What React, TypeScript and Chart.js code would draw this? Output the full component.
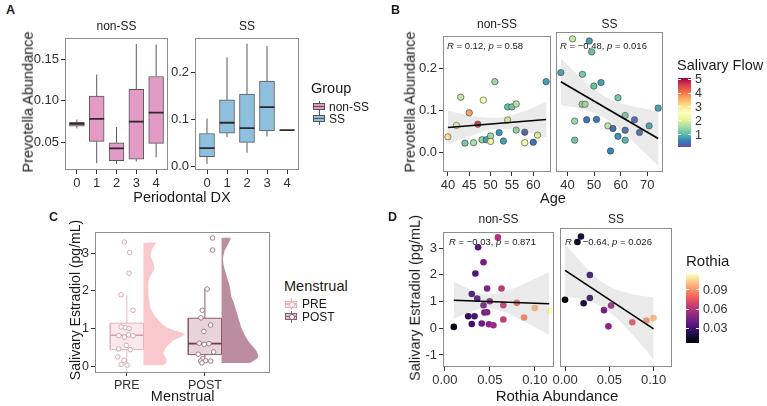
import React, { useEffect, useRef } from "react";
import { Chart, registerables } from "chart.js";

Chart.register(...registerables);

const FONT = "'Liberation Sans', Arial, sans-serif";
const INK = "#1a1a1a";
const TICK_TEXT = "#303030";

// ---------------- Panel A : Prevotella by Periodontal DX ----------------
const periodontalDX = [0, 1, 2, 3, 4];
const dxTickLabels = ["0", "1", "2", "3", "4"];
const aNonSSLow = [0.0667, 0.025, 0.0239, 0.027, 0.032];
const aNonSSQ1 = [0.0694, 0.051, 0.0279, 0.0298, 0.0486];
const aNonSSMedian = [0.072, 0.078, 0.0427, 0.0749, 0.0855];
const aNonSSQ3 = [0.0741, 0.1055, 0.0494, 0.1137, 0.129];
const aNonSSHigh = [0.0773, 0.1314, 0.0682, 0.168, 0.1675];
const aSSLow = [0.006, 0.0627, 0.0296, 0.064, 0.0772];
const aSSQ1 = [0.0213, 0.071, 0.0516, 0.0758, 0.0772];
const aSSMedian = [0.0392, 0.093, 0.0814, 0.126, 0.0772];
const aSSQ3 = [0.0702, 0.1414, 0.1538, 0.181, 0.0772];
const aSSHigh = [0.102, 0.231, 0.26, 0.255, 0.0772];
const aNonSSYTicks = [0.05, 0.1, 0.15];
const aNonSSYLabels = ["0.05", "0.10", "0.15"];
const aSSYTicks = [0, 0.1, 0.2];
const aSSYLabels = ["0.0", "0.1", "0.2"];

// ---------------- Panel B : Prevotella vs Age ----------------
const bNonSSAge = [40, 42, 43, 44, 45, 46, 47, 48, 48.3, 49, 50, 50, 51, 52, 53, 54, 55, 54, 56, 56, 58, 58, 60, 61, 63];
const bNonSSAbund = [0.038, 0.065, 0.132, 0.023, 0.095, 0.024, 0.068, 0.031, 0.125, 0.031, 0.04, 0.027, 0.169, 0.048, 0.028, 0.109, 0.109, 0.078, 0.116, 0.054, 0.049, 0.024, 0.025, 0.042, 0.169];
const bNonSSFlow = [3.0, 2.4, 1.8, 1.2, 3.7, 1.6, 4.7, 1.4, 2.5, 0.8, 1.5, 2.2, 1.5, 0.7, 0.8, 1.1, 1.2, 2.1, 1.7, 1.4, 0.3, 2.4, 0.4, 2.0, 0.8];
const bSSAge = [37.5, 41.9, 42.7, 42.7, 45.6, 45.5, 46.6, 47.2, 48.2, 49.1, 49.9, 50.9, 52.6, 55.2, 57.1, 56.2, 59, 59, 61.7, 61.7, 61.7, 65.2, 67.1, 70.7, 74.1];
const bSSAbund = [0.184, 0.262, 0.072, 0.028, 0.18, 0.111, 0.111, 0.075, 0.257, 0.232, 0.153, 0.076, 0.161, 0.061, 0.055, 0.003, 0.126, 0.037, 0.085, 0.051, 0.028, 0.075, 0.046, 0.061, 0.102];
const bSSFlow = [0.8, 1.8, 1.5, 1.2, 1.2, 1.6, 1.6, 0.4, 0.8, 1.1, 1.1, 0.5, 0.8, 1.8, 0.4, 0.6, 1.2, 0.7, 1.3, 0.3, 1.0, 0.3, 0.3, 0.8, 0.8];
const bNonSSFitX = [40, 63];
const bNonSSFitY = [0.06, 0.079];
const bNonSSBandX = [40, 43, 46, 51.5, 56, 59, 63];
const bNonSSBandHi = [0.1, 0.093, 0.087, 0.083, 0.093, 0.103, 0.121];
const bNonSSBandLo = [0.02, 0.032, 0.043, 0.057, 0.054, 0.048, 0.037];
const bSSFitX = [37.5, 74.1];
const bSSFitY = [0.163, 0.032];
const bSSBandX = [37.5, 44, 50, 54, 60, 67, 74.1];
const bSSBandHi = [0.217, 0.178, 0.146, 0.129, 0.113, 0.103, 0.095];
const bSSBandLo = [0.109, 0.102, 0.091, 0.079, 0.052, 0.011, -0.031];
const bYTicks = [0, 0.1, 0.2];
const bYLabels = ["0.0", "0.1", "0.2"];
const bNonSSXTicks = [40, 45, 50, 55, 60];
const bNonSSXLabels = ["40", "45", "50", "55", "60"];
const bSSXTicks = [40, 50, 60, 70];
const bSSXLabels = ["40", "50", "60", "70"];
const flowLegendTicks = [1, 2, 3, 4, 5];

// ---------------- Panel C : Estradiol by Menstrual ----------------
const menstrualCats = [1, 2];
const menstrualLabels = ["PRE", "POST"];
const cLow = [0.04, 0.1];
const cQ1 = [0.45, 0.32];
const cMedian = [0.83, 0.61];
const cQ3 = [1.15, 1.28];
const cHigh = [1.88, 2.06];
const cPreValues = [3.29, 3.02, 2.47, 1.9, 1.49, 1.05, 1.03, 1.01, 0.82, 0.84, 0.82, 0.78, 0.56, 0.47, 0.45, 0.26, 0.17, 0.06, 0.04];
const cPreJitter = [-0.032, 0.036, 0.028, -0.074, 0.079, -0.074, -0.019, 0.028, -0.104, 0.023, 0.079, -0.032, -0.006, -0.104, 0.045, -0.117, -0.036, -0.074, 0.003];
const cPostValues = [3.4, 3.08, 2.05, 1.49, 1.29, 1.1, 0.93, 0.62, 0.59, 0.61, 0.39, 0.33, 0.21, 0.15, 0.16, 0.15, 0.1];
const cPostJitter = [0.098, 0.098, 0.029, -0.034, -0.051, 0.073, -0.013, -0.073, -0.009, 0.051, 0.111, -0.085, -0.029, -0.055, 0.009, 0.073, -0.038];
const cPreDensityY = [3.27, 3.12, 2.93, 2.75, 2.58, 2.4, 2.24, 2.05, 1.9, 1.72, 1.55, 1.4, 1.29, 1.15, 1.03, 0.94, 0.86, 0.78, 0.69, 0.6, 0.52, 0.43, 0.35, 0.22, 0.12, 0.04];
const cPreDensityW = [0.166, 0.115, 0.089, 0.127, 0.14, 0.089, 0.064, 0.064, 0.064, 0.076, 0.089, 0.127, 0.166, 0.229, 0.306, 0.42, 0.535, 0.471, 0.382, 0.331, 0.293, 0.268, 0.255, 0.293, 0.293, 0.255];
const cPostDensityY = [3.4, 3.25, 3.05, 2.85, 2.7, 2.5, 2.32, 2.15, 2.0, 1.85, 1.72, 1.55, 1.37, 1.2, 1.03, 0.86, 0.68, 0.55, 0.42, 0.3, 0.22, 0.15, 0.1];
const cPostDensityW = [0.115, 0.089, 0.038, 0.019, 0.025, 0.051, 0.076, 0.102, 0.115, 0.127, 0.153, 0.178, 0.204, 0.229, 0.255, 0.293, 0.344, 0.395, 0.446, 0.471, 0.459, 0.408, 0.357];
const cYTicks = [0, 1, 2, 3];
const cYLabels = ["0", "1", "2", "3"];

// ---------------- Panel D : Estradiol vs Rothia ----------------
const dNonSSRothia = [0.059, 0.037, 0.043, 0.034, 0.047, 0.063, 0.03, 0.036, 0.05, 0.043, 0.065, 0.08, 0.1, 0.116, 0.088, 0.026, 0.033, 0.044, 0.047, 0.065, 0.03, 0.041, 0.049, 0.054, 0.01];
const dNonSSEstradiol = [3.4, 3.03, 2.47, 2.05, 1.49, 1.49, 1.28, 1.11, 1.01, 0.86, 0.86, 0.95, 0.76, 0.64, 0.4, 0.45, 0.45, 0.59, 0.6, 0.33, 0.16, 0.18, 0.15, 0.11, 0.05];
const dSSRothia = [0.018, 0.014, 0.0, 0.028, 0.028, 0.021, 0.044, 0.052, 0.049, 0.076, 0.092, 0.1];
const dSSEstradiol = [3.3, 3.1, 1.0, 1.9, 1.06, 0.87, 0.62, 0.79, 0.03, 0.18, 0.24, 0.33];
const dNonSSFitX = [0.01, 0.116];
const dNonSSFitY = [1.05, 0.92];
const dNonSSBandX = [0.01, 0.025, 0.04, 0.05, 0.065, 0.085, 0.1, 0.116];
const dNonSSBandHi = [1.74, 1.5, 1.3, 1.27, 1.36, 1.62, 1.85, 2.1];
const dNonSSBandLo = [0.36, 0.56, 0.72, 0.74, 0.62, 0.31, 0.05, -0.26];
const dSSFitX = [0.0, 0.1];
const dSSFitY = [2.07, -0.06];
const dSSBandX = [0.0, 0.015, 0.03, 0.045, 0.06, 0.075, 0.09, 0.1];
const dSSBandHi = [3.03, 2.47, 1.97, 1.57, 1.34, 1.21, 1.13, 1.09];
const dSSBandLo = [1.12, 1.04, 0.91, 0.67, 0.28, -0.23, -0.78, -1.2];
const dYTicks = [-1, 0, 1, 2, 3];
const dYLabels = ["-1", "0", "1", "2", "3"];
const dXTicks = [0, 0.05, 0.1];
const dXLabels = ["0.00", "0.05", "0.10"];
const rothiaLegendTicks = [0.03, 0.06, 0.09];
const rothiaLegendLabels = ["0.03", "0.06", "0.09"];

// ---------------- colour scales ----------------
const SPECTRAL = ["#5E4FA2", "#3288BD", "#66C2A5", "#ABDDA4", "#E6F598", "#FFFFBF", "#FEE08B", "#FDAE61", "#F46D43", "#D53E4F", "#9E0142"];
const MAGMA = ["#000004", "#140E36", "#3B0F70", "#641A80", "#8C2981", "#B73779", "#DE4968", "#F7705C", "#FE9F6D", "#FECF92", "#FCFDBF"];
const FLOW_DOMAIN = [0.1, 5.1];
const ROTHIA_DOMAIN = [0.007, 0.115];

function hexRgb(h: string) {
  return [parseInt(h.slice(1, 3), 16), parseInt(h.slice(3, 5), 16), parseInt(h.slice(5, 7), 16)];
}
function ramp(stops: string[], dom: number[], v: number) {
  let t = (v - dom[0]) / (dom[1] - dom[0]);
  t = Math.max(0, Math.min(1, t));
  const n = stops.length - 1;
  const i = Math.min(n - 1, Math.floor(t * n));
  const f = t * n - i;
  const a = hexRgb(stops[i]);
  const b = hexRgb(stops[i + 1]);
  const c = a.map((x, k) => Math.round(x + (b[k] - x) * f));
  return `rgb(${c[0]},${c[1]},${c[2]})`;
}

// ---------------- layout ----------------
const YW = 40;
const LP = 16;
const PT = 6;
const PR = 8;
const XH = 24;
type Box = { l: number; t: number; r: number; b: number };
const boxANon: Box = { l: 65, t: 34, r: 168, b: 170 };
const boxASS: Box = { l: 195, t: 34, r: 299, b: 170 };
const boxBNon: Box = { l: 443, t: 32, r: 551, b: 172 };
const boxBSS: Box = { l: 556, t: 32, r: 663, b: 172 };
const boxC: Box = { l: 95, t: 228, r: 270, b: 372 };
const boxDNon: Box = { l: 443, t: 228, r: 554, b: 367 };
const boxDSS: Box = { l: 560, t: 228, r: 672, b: 367 };

const BAND = "rgba(150,150,150,0.2)";

const panelBorder = {
  id: "panelBorder",
  afterDatasetsDraw(chart: any) {
    const { ctx, chartArea: a } = chart;
    ctx.save();
    ctx.strokeStyle = "#8c8c8c";
    ctx.lineWidth = 1;
    ctx.strokeRect(Math.round(a.left) + 0.5, Math.round(a.top) + 0.5, Math.round(a.right - a.left) - 1, Math.round(a.bottom - a.top) - 1);
    ctx.restore();
  },
};

function axis(min: number, max: number, ticks: number[], labels: string[], isX: boolean, display = true, size = 13) {
  return {
    type: "linear",
    min,
    max,
    display,
    offset: false,
    afterFit: (s: any) => {
      if (!display) return;
      if (isX) s.height = XH;
      else s.width = YW;
    },
    afterBuildTicks: (s: any) => {
      s.ticks = ticks.map((v) => ({ value: v }));
    },
    ticks: {
      autoSkip: false,
      maxRotation: 0,
      minRotation: 0,
      padding: 2,
      color: TICK_TEXT,
      font: { family: FONT, size },
      callback: (v: number) => {
        const i = ticks.indexOf(v);
        return i >= 0 ? labels[i] : "";
      },
    },
    grid: { display: true, drawOnChartArea: false, drawTicks: true, tickLength: 4, color: "#333", lineWidth: 1, offset: false },
    border: { display: false },
  };
}

function opts(showY: boolean, x: any, y: any) {
  return {
    responsive: false,
    maintainAspectRatio: false,
    animation: false,
    devicePixelRatio: 1,
    events: [],
    layout: { padding: { left: showY ? 0 : LP, top: PT, right: PR, bottom: 0 } },
    plugins: { legend: { display: false }, tooltip: { enabled: false } },
    scales: { x, y },
  };
}

function Facet({ box, showY, make }: { box: Box; showY: boolean; make: () => any }) {
  const ref = useRef<HTMLCanvasElement>(null);
  const lw = showY ? YW : LP;
  const w = box.r - box.l + lw + PR;
  const h = box.b - box.t + PT + XH;
  useEffect(() => {
    const c = new Chart(ref.current as HTMLCanvasElement, make());
    return () => c.destroy();
  }, []);
  return <canvas ref={ref} width={w} height={h} style={{ position: "absolute", left: box.l - lw, top: box.t - PT, width: w, height: h }} />;
}

// ---------------- chart builders ----------------
const A_XMIN = -0.6;
const A_XMAX = 4.6;
function boxplotChart(box: Box, lows: number[], q1: number[], med: number[], q3: number[], high: number[], fill: string, ymin: number, ymax: number, yt: number[], yl: string[]) {
  const ppu = (box.r - box.l) / (A_XMAX - A_XMIN);
  const whiskers: any[] = [];
  const medians: any[] = [];
  periodontalDX.forEach((c, i) => {
    whiskers.push({ x: c, y: lows[i] }, { x: c, y: q1[i] }, { x: c, y: null }, { x: c, y: q3[i] }, { x: c, y: high[i] }, { x: c, y: null });
    medians.push({ x: c - 0.375, y: med[i] }, { x: c + 0.375, y: med[i] }, { x: c, y: null });
  });
  return {
    type: "bar",
    data: {
      datasets: [
        { type: "line", data: whiskers, borderColor: "#595959", borderWidth: 1, pointRadius: 0, spanGaps: false, fill: false, order: 3 },
        { type: "bar", data: periodontalDX.map((c, i) => ({ x: c, y: [q1[i], q3[i]] })), backgroundColor: fill, borderColor: "#595959", borderWidth: 1, borderSkipped: false, barThickness: ppu * 0.75, order: 2 },
        { type: "line", data: medians, borderColor: "#2b2b2b", borderWidth: 1.8, pointRadius: 0, spanGaps: false, fill: false, order: 1 },
      ],
    },
    options: opts(true, axis(A_XMIN, A_XMAX, periodontalDX, dxTickLabels, true), axis(ymin, ymax, yt, yl, false)),
    plugins: [panelBorder],
  };
}

function regressionChart(p: any) {
  const pts = p.xs.map((x: number, i: number) => ({ x, y: p.ys[i] }));
  return {
    type: "scatter",
    data: {
      datasets: [
        { type: "line", data: p.bandX.map((x: number, i: number) => ({ x, y: p.bandHi[i] })), fill: "+1", backgroundColor: BAND, borderWidth: 0, pointRadius: 0, cubicInterpolationMode: "monotone", order: 2 },
        { type: "line", data: p.bandX.map((x: number, i: number) => ({ x, y: p.bandLo[i] })), fill: false, borderWidth: 0, pointRadius: 0, cubicInterpolationMode: "monotone", order: 2 },
        { type: "line", data: p.fitX.map((x: number, i: number) => ({ x, y: p.fitY[i] })), borderColor: "#000", borderWidth: 1.6, pointRadius: 0, fill: false, order: 1 },
        { type: "scatter", data: pts, backgroundColor: p.colors, borderColor: p.pointBorder, borderWidth: p.pointBorderWidth, pointRadius: p.radius, order: 3 },
      ],
    },
    options: opts(p.showY, axis(p.xmin, p.xmax, p.xt, p.xl, true, true), axis(p.ymin, p.ymax, p.yt, p.yl, false, p.showY)),
    plugins: [panelBorder],
  };
}

const C_XMIN = 0.592;
const C_XMAX = 2.834;
const C_HALF = 0.213;
function violinPolygon(cat: number, ys: number[], ws: number[]) {
  const x0 = cat + C_HALF;
  const n = ys.length;
  const pts: any[] = [{ x: x0, y: ys[n - 1] }];
  for (let i = n - 1; i >= 0; i--) pts.push({ x: x0 + ws[i], y: ys[i] });
  pts.push({ x: x0, y: ys[0] });
  return pts;
}
function boxPolygon(i: number) {
  const c = menstrualCats[i];
  return [
    { x: c - C_HALF, y: cQ1[i] },
    { x: c + C_HALF, y: cQ1[i] },
    { x: c + C_HALF, y: cQ3[i] },
    { x: c - C_HALF, y: cQ3[i] },
    { x: c - C_HALF, y: cQ1[i] },
  ];
}
function whiskerLine(i: number) {
  const c = menstrualCats[i];
  return [{ x: c, y: cLow[i] }, { x: c, y: cQ1[i] }, { x: c, y: null }, { x: c, y: cQ3[i] }, { x: c, y: cHigh[i] }];
}
function medianLine(i: number) {
  const c = menstrualCats[i];
  return [{ x: c - C_HALF, y: cMedian[i] }, { x: c + C_HALF, y: cMedian[i] }];
}

const PRE_VIOLIN = "#F9C8CC";
const POST_VIOLIN = "#BC8D9E";
const PRE_BOX = "rgba(250,222,226,0.7)";
const POST_BOX = "rgba(226,196,207,0.75)";
const PRE_EDGE = "#E8B4BA";
const POST_EDGE = "#8A5A6C";

function menstrualChart() {
  return {
    type: "scatter",
    data: {
      datasets: [
        { type: "line", data: violinPolygon(1, cPreDensityY, cPreDensityW), fill: "shape", backgroundColor: PRE_VIOLIN, borderWidth: 0, pointRadius: 0, tension: 0.15, order: 6 },
        { type: "line", data: violinPolygon(2, cPostDensityY, cPostDensityW), fill: "shape", backgroundColor: POST_VIOLIN, borderWidth: 0, pointRadius: 0, tension: 0.15, order: 6 },
        { type: "line", data: whiskerLine(0), borderColor: PRE_EDGE, borderWidth: 1, pointRadius: 0, fill: false, spanGaps: false, order: 5 },
        { type: "line", data: whiskerLine(1), borderColor: POST_EDGE, borderWidth: 1, pointRadius: 0, fill: false, spanGaps: false, order: 5 },
        { type: "line", data: boxPolygon(0), fill: "shape", backgroundColor: PRE_BOX, borderColor: PRE_EDGE, borderWidth: 1, pointRadius: 0, tension: 0, order: 4 },
        { type: "line", data: boxPolygon(1), fill: "shape", backgroundColor: POST_BOX, borderColor: POST_EDGE, borderWidth: 1, pointRadius: 0, tension: 0, order: 4 },
        { type: "line", data: medianLine(0), borderColor: "#DE9AA3", borderWidth: 1.6, pointRadius: 0, fill: false, order: 3 },
        { type: "line", data: medianLine(1), borderColor: "#6B3A4E", borderWidth: 1.6, pointRadius: 0, fill: false, order: 3 },
        { type: "scatter", data: cPreValues.map((v, i) => ({ x: 1 + cPreJitter[i], y: v })), backgroundColor: "#ffffff", borderColor: "#CFA3AA", borderWidth: 0.9, pointRadius: 2.3, order: 1 },
        { type: "scatter", data: cPostValues.map((v, i) => ({ x: 2 + cPostJitter[i], y: v })), backgroundColor: "#ffffff", borderColor: "#94707E", borderWidth: 0.9, pointRadius: 2.3, order: 1 },
      ],
    },
    options: opts(true, axis(C_XMIN, C_XMAX, menstrualCats, menstrualLabels, true, true, 12.5), axis(-0.14, 3.57, cYTicks, cYLabels, false, true, 12.5)),
    plugins: [panelBorder],
  };
}

// ---------------- HTML text helpers ----------------
function Txt({ x, y, size, children, rotate, bold, left, color }: any) {
  const tr = left ? "translate(0,-50%)" : rotate ? "translate(-50%,-50%) rotate(-90deg)" : "translate(-50%,-50%)";
  return (
    <div
      style={{
        position: "absolute",
        left: x,
        top: y,
        transform: tr,
        fontFamily: FONT,
        fontSize: size,
        fontWeight: bold ? 700 : 400,
        whiteSpace: "nowrap",
        lineHeight: 1,
        color: color || INK,
      }}
    >
      {children}
    </div>
  );
}

function BoxKey({ x, y, fill, edge, dot }: any) {
  return (
    <div style={{ position: "absolute", left: x, top: y - 6, width: 12, height: 12 }}>
      <div style={{ position: "absolute", left: 5.5, top: 0, width: 1, height: 12, background: edge }} />
      <div style={{ position: "absolute", left: 0, top: 2.5, width: 10, height: 5, background: fill, border: `1px solid ${edge}` }} />
      <div style={{ position: "absolute", left: 0, top: 5, width: 12, height: 1.5, background: edge }} />
      {dot ? <div style={{ position: "absolute", left: 3.5, top: 3.5, width: 4, height: 4, borderRadius: 3, background: "#fff", border: `1px solid ${edge}` }} /> : null}
    </div>
  );
}

function ColorBar({ x, y, w, h, stops, dom, ticks, labels }: any) {
  const grad = `linear-gradient(to top, ${stops.join(",")})`;
  return (
    <>
      <div style={{ position: "absolute", left: x, top: y, width: w, height: h, background: grad }} />
      {ticks.map((t: number, i: number) => {
        const yy = y + h - ((t - dom[0]) / (dom[1] - dom[0])) * h;
        return (
          <React.Fragment key={i}>
            <div style={{ position: "absolute", left: x, top: yy - 0.5, width: 3, height: 1, background: "#fff" }} />
            <div style={{ position: "absolute", left: x + w - 3, top: yy - 0.5, width: 3, height: 1, background: "#fff" }} />
            <Txt x={x + w + 4} y={yy} size={12.5} left color="#333">
              {labels[i]}
            </Txt>
          </React.Fragment>
        );
      })}
    </>
  );
}

export default function App() {
  return (
    <div style={{ position: "absolute", left: 0, top: 0, width: 767, height: 406, background: "#fff", overflow: "hidden" }}>
      {/* Panel A */}
      <Facet box={boxANon} showY make={() => boxplotChart(boxANon, aNonSSLow, aNonSSQ1, aNonSSMedian, aNonSSQ3, aNonSSHigh, "#E39AC4", 0.0167, 0.1755, aNonSSYTicks, aNonSSYLabels)} />
      <Facet box={boxASS} showY make={() => boxplotChart(boxASS, aSSLow, aSSQ1, aSSMedian, aSSQ3, aSSHigh, "#8FBFDF", -0.0069, 0.2725, aSSYTicks, aSSYLabels)} />
      <Txt x={6} y={10} size={12.5} bold left>A</Txt>
      <Txt x={116.5} y={26} size={12}>non-SS</Txt>
      <Txt x={247} y={26} size={12}>SS</Txt>
      <Txt x={28} y={102} size={14.5} rotate>Prevotella Abundance</Txt>
      <Txt x={182} y={197} size={14.5}>Periodontal DX</Txt>
      <Txt x={311} y={88} size={14.5} left>Group</Txt>
      <BoxKey x={313} y={106.5} fill="#E39AC4" edge="#555" />
      <BoxKey x={313} y={118.5} fill="#8FBFDF" edge="#555" />
      <Txt x={329} y={106.5} size={12} left>non-SS</Txt>
      <Txt x={329} y={118.5} size={12} left>SS</Txt>

      {/* Panel B */}
      <Facet
        box={boxBNon}
        showY
        make={() =>
          regressionChart({
            xs: bNonSSAge, ys: bNonSSAbund, colors: bNonSSFlow.map((f) => ramp(SPECTRAL, FLOW_DOMAIN, f)),
            pointBorder: "rgba(55,55,55,0.85)", pointBorderWidth: 0.7, radius: 3.2,
            fitX: bNonSSFitX, fitY: bNonSSFitY, bandX: bNonSSBandX, bandHi: bNonSSBandHi, bandLo: bNonSSBandLo,
            xmin: 38.85, xmax: 64.15, xt: bNonSSXTicks, xl: bNonSSXLabels,
            ymin: -0.0455, ymax: 0.2778, yt: bYTicks, yl: bYLabels, showY: true,
          })
        }
      />
      <Facet
        box={boxBSS}
        showY={false}
        make={() =>
          regressionChart({
            xs: bSSAge, ys: bSSAbund, colors: bSSFlow.map((f) => ramp(SPECTRAL, FLOW_DOMAIN, f)),
            pointBorder: "rgba(55,55,55,0.85)", pointBorderWidth: 0.7, radius: 3.2,
            fitX: bSSFitX, fitY: bSSFitY, bandX: bSSBandX, bandHi: bSSBandHi, bandLo: bSSBandLo,
            xmin: 35.67, xmax: 75.93, xt: bSSXTicks, xl: bSSXLabels,
            ymin: -0.0455, ymax: 0.2778, yt: bYTicks, yl: bYLabels, showY: false,
          })
        }
      />
      <Txt x={391} y={10} size={12.5} bold left>B</Txt>
      <Txt x={497} y={23.5} size={12}>non-SS</Txt>
      <Txt x={609.5} y={23.5} size={12}>SS</Txt>
      <Txt x={410} y={102} size={14.5} rotate>Prevotella Abundance</Txt>
      <Txt x={553} y={198} size={14.5}>Age</Txt>
      <Txt x={447} y={46} size={9.5} left><i>R</i> = 0.12, <i>p</i> = 0.58</Txt>
      <Txt x={560} y={46} size={9.5} left><i>R</i> = −0.48, <i>p</i> = 0.016</Txt>
      <Txt x={677} y={65} size={14.5} left>Salivary Flow</Txt>
      <ColorBar x={678} y={78} w={13} h={69} stops={SPECTRAL} dom={FLOW_DOMAIN} ticks={flowLegendTicks} labels={flowLegendTicks.map(String)} />

      {/* Panel C */}
      <Facet box={boxC} showY make={menstrualChart} />
      <Txt x={49} y={217} size={12.5} bold left>C</Txt>
      <Txt x={75} y={300} size={14} rotate>Salivary Estradiol (pg/mL)</Txt>
      <Txt x={182.7} y={396} size={14.5}>Menstrual</Txt>
      <Txt x={284} y={286} size={14.5} left>Menstrual</Txt>
      <BoxKey x={285} y={304} fill="#FBE3E6" edge={PRE_EDGE} dot />
      <BoxKey x={285} y={316.5} fill="#E2C4CF" edge={POST_EDGE} dot />
      <Txt x={302} y={304} size={12} left>PRE</Txt>
      <Txt x={302} y={316.5} size={12} left>POST</Txt>

      {/* Panel D */}
      <Facet
        box={boxDNon}
        showY
        make={() =>
          regressionChart({
            xs: dNonSSRothia, ys: dNonSSEstradiol, colors: dNonSSRothia.map((v) => ramp(MAGMA, ROTHIA_DOMAIN, v)),
            pointBorder: "rgba(0,0,0,0)", pointBorderWidth: 0, radius: 3.3,
            fitX: dNonSSFitX, fitY: dNonSSFitY, bandX: dNonSSBandX, bandHi: dNonSSBandHi, bandLo: dNonSSBandLo,
            xmin: -0.002, xmax: 0.1213, xt: dXTicks, xl: dXLabels,
            ymin: -1.45, ymax: 3.61, yt: dYTicks, yl: dYLabels, showY: true,
          })
        }
      />
      <Facet
        box={boxDSS}
        showY={false}
        make={() =>
          regressionChart({
            xs: dSSRothia, ys: dSSEstradiol, colors: dSSRothia.map((v) => ramp(MAGMA, ROTHIA_DOMAIN, v)),
            pointBorder: "rgba(0,0,0,0)", pointBorderWidth: 0, radius: 3.3,
            fitX: dSSFitX, fitY: dSSFitY, bandX: dSSBandX, bandHi: dSSBandHi, bandLo: dSSBandLo,
            xmin: -0.0057, xmax: 0.1208, xt: dXTicks, xl: dXLabels,
            ymin: -1.45, ymax: 3.61, yt: dYTicks, yl: dYLabels, showY: false,
          })
        }
      />
      <Txt x={388} y={217} size={12.5} bold left>D</Txt>
      <Txt x={498.5} y={218.5} size={12}>non-SS</Txt>
      <Txt x={616} y={218.5} size={12}>SS</Txt>
      <Txt x={415} y={298} size={14.5} rotate>Salivary Estradiol (pg/mL)</Txt>
      <Txt x={557} y={395} size={15}>Rothia Abundance</Txt>
      <Txt x={449} y={241.7} size={9.5} left><i>R</i> = −0.03, <i>p</i> = 0.871</Txt>
      <Txt x={565} y={241.7} size={9.5} left><i>R</i> = −0.64, <i>p</i> = 0.026</Txt>
      <Txt x={686} y={260} size={15} left>Rothia</Txt>
      <ColorBar x={686} y={274} w={13} h={69} stops={MAGMA} dom={ROTHIA_DOMAIN} ticks={rothiaLegendTicks} labels={rothiaLegendLabels} />
    </div>
  );
}
